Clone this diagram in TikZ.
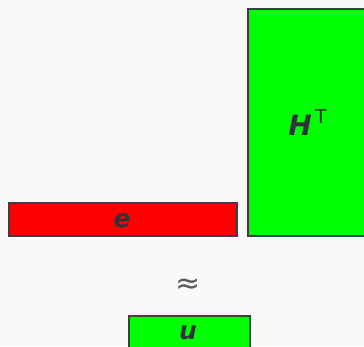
\documentclass[tikz,border=0pt]{standalone}
\usepackage{fontspec}
\setmainfont{DejaVu Sans}
\newfontfamily\lblfont{DejaVu Sans}[BoldItalicFont={DejaVu Sans Bold Oblique}]
\begin{document}
\begin{tikzpicture}[x=1pt,y=-1pt,
  block/.style={draw=edge,line width=1.6pt,inner sep=0pt,anchor=north west},
  lbl/.style={text=ink,inner sep=0pt,font=\lblfont\bfseries\itshape\fontsize{25}{25}\selectfont}]
\definecolor{edge}{HTML}{3A3F44}
\definecolor{ink}{HTML}{2E3338}
\definecolor{bg}{HTML}{F9F9F9}
\definecolor{greenfill}{HTML}{00FF00}
\definecolor{redfill}{HTML}{FF0000}
\fill[bg] (0,0) rectangle (364,346);
\useasboundingbox (0,0) rectangle (364,346);
\clip (0,0) rectangle (364,346);
% factor blocks
\node[block,fill=greenfill,minimum width=118pt,minimum height=227pt] (H) at (247,8) {};
\node[block,fill=redfill,minimum width=228pt,minimum height=33pt] (e) at (8,202) {};
\node[block,fill=greenfill,minimum width=121pt,minimum height=40pt] (u) at (128,315) {};
% labels
\node[lbl,font=\lblfont\bfseries\itshape\fontsize{28}{28}\selectfont,anchor=base] (Hl) at (300,135) {H};
\node[text=ink,inner sep=0pt,font=\fontsize{19}{19}\selectfont,anchor=base west] (Ht) at ([xshift=3pt,yshift=12pt]Hl.base east) {T};
\node[lbl,anchor=base] (el) at (122,227) {e};
\node[lbl,anchor=base] (ul) at (188,339) {u};
\node[text=ink!80,font=\fontsize{30}{30}\selectfont] (approx) at (188,286) {≈};
\end{tikzpicture}
\end{document}
